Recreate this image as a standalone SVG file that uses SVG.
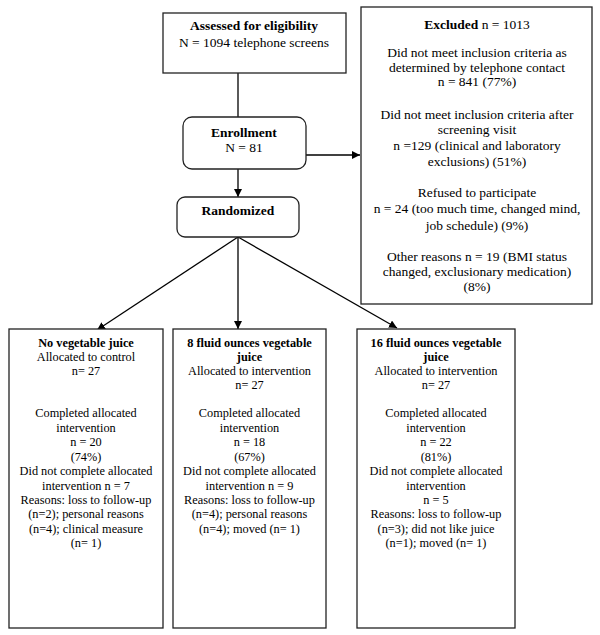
<svg xmlns="http://www.w3.org/2000/svg" width="600" height="635" viewBox="0 0 600 635">
<defs>
<marker id="ah" viewBox="0 0 10 10" refX="10" refY="5" markerWidth="8" markerHeight="8" markerUnits="userSpaceOnUse" orient="auto">
<path d="M0,0 L10,5 L0,10 z" fill="#000"/>
</marker>
</defs>
<style>
.box{fill:#fff;stroke:#222;stroke-width:1.3}
.ln{stroke:#000;stroke-width:1.3;fill:none}
text{font-family:"Liberation Serif","Times New Roman",serif;fill:#000;text-anchor:middle}
.t{font-size:13.5px}
.s{font-size:12.3px}
.b{font-weight:bold}
</style>
<rect width="600" height="635" fill="#fff"/>
<g id="connectors">
<line class="ln" x1="238" y1="73" x2="238" y2="117"/>
<line class="ln" x1="306" y1="155" x2="360" y2="155" marker-end="url(#ah)"/>
<line class="ln" x1="238" y1="169" x2="238" y2="197" marker-end="url(#ah)"/>
<line class="ln" x1="238" y1="237" x2="97" y2="330" marker-end="url(#ah)"/>
<line class="ln" x1="238" y1="237" x2="238" y2="329" marker-end="url(#ah)"/>
<line class="ln" x1="238" y1="237" x2="397" y2="328" marker-end="url(#ah)"/>
</g>
<g id="assessed">
<rect class="box" x="163" y="13" width="183" height="60"/>
<text class="t b" x="254" y="30">Assessed for eligibility</text>
<text class="t" x="254" y="47">N = 1094 telephone screens</text>
</g>
<g id="enrollment">
<rect class="box" x="183" y="117" width="123" height="52" rx="9"/>
<text class="t b" x="244" y="137">Enrollment</text>
<text class="t" x="244" y="152">N = 81</text>
</g>
<g id="randomized">
<rect class="box" x="177" y="197" width="122" height="40" rx="8"/>
<text class="t b" x="238" y="215">Randomized</text>
</g>
<g id="excluded">
<rect class="box" x="361" y="7" width="231" height="297"/>
<text class="t" x="477" y="29"><tspan class="b">Excluded</tspan> n = 1013</text>
<text class="t" x="477" y="57">Did not meet inclusion criteria as</text>
<text class="t" x="477" y="72">determined by telephone contact</text>
<text class="t" x="477" y="86">n = 841 (77%)</text>
<text class="t" x="477" y="119">Did not meet inclusion criteria after</text>
<text class="t" x="477" y="134">screening visit</text>
<text class="t" x="477" y="150">n =129 (clinical and laboratory</text>
<text class="t" x="477" y="166">exclusions) (51%)</text>
<text class="t" x="477" y="197">Refused to participate</text>
<text class="t" x="477" y="213">n = 24 (too much time, changed mind,</text>
<text class="t" x="477" y="230">job schedule) (9%)</text>
<text class="t" x="477" y="261">Other reasons n = 19 (BMI status</text>
<text class="t" x="477" y="276">changed, exclusionary medication)</text>
<text class="t" x="477" y="291">(8%)</text>
</g>
<g id="control">
<rect class="box" x="9" y="329" width="154" height="299"/>
<text class="s b" x="86" y="347">No vegetable juice</text>
<text class="s" x="86" y="361">Allocated to control</text>
<text class="s" x="86" y="375">n= 27</text>
<text class="s" x="86" y="417">Completed allocated</text>
<text class="s" x="86" y="432">intervention</text>
<text class="s" x="86" y="446">n = 20</text>
<text class="s" x="86" y="461">(74%)</text>
<text class="s" x="86" y="475">Did not complete allocated</text>
<text class="s" x="86" y="490">intervention n = 7</text>
<text class="s" x="86" y="504">Reasons: loss to follow-up</text>
<text class="s" x="86" y="518">(n=2); personal reasons</text>
<text class="s" x="86" y="533">(n=4); clinical measure</text>
<text class="s" x="86" y="547">(n= 1)</text>
</g>
<g id="juice8">
<rect class="box" x="173" y="329" width="153" height="299"/>
<text class="s b" x="249.5" y="347">8 fluid ounces vegetable</text>
<text class="s b" x="249.5" y="361">juice</text>
<text class="s" x="249.5" y="375">Allocated to intervention</text>
<text class="s" x="249.5" y="389">n= 27</text>
<text class="s" x="249.5" y="417">Completed allocated</text>
<text class="s" x="249.5" y="432">intervention</text>
<text class="s" x="249.5" y="446">n = 18</text>
<text class="s" x="249.5" y="461">(67%)</text>
<text class="s" x="249.5" y="475">Did not complete allocated</text>
<text class="s" x="249.5" y="490">intervention n = 9</text>
<text class="s" x="249.5" y="504">Reasons: loss to follow-up</text>
<text class="s" x="249.5" y="518">(n=4); personal reasons</text>
<text class="s" x="249.5" y="533">(n=4); moved (n= 1)</text>
</g>
<g id="juice16">
<rect class="box" x="357" y="329" width="158" height="299"/>
<text class="s b" x="436" y="347">16 fluid ounces vegetable</text>
<text class="s b" x="436" y="361">juice</text>
<text class="s" x="436" y="375">Allocated to intervention</text>
<text class="s" x="436" y="389">n= 27</text>
<text class="s" x="436" y="417">Completed allocated</text>
<text class="s" x="436" y="432">intervention</text>
<text class="s" x="436" y="446">n = 22</text>
<text class="s" x="436" y="461">(81%)</text>
<text class="s" x="436" y="475">Did not complete allocated</text>
<text class="s" x="436" y="490">intervention</text>
<text class="s" x="436" y="504">n = 5</text>
<text class="s" x="436" y="518">Reasons: loss to follow-up</text>
<text class="s" x="436" y="533">(n=3); did not like juice</text>
<text class="s" x="436" y="547">(n=1); moved (n= 1)</text>
</g>
</svg>
